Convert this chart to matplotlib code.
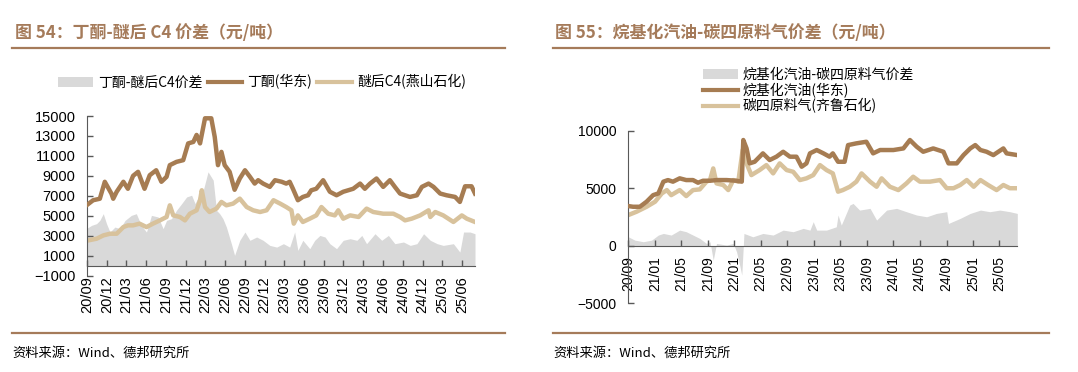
import matplotlib
matplotlib.use("Agg")
import matplotlib.pyplot as plt
import matplotlib.dates as mdates
from matplotlib.patches import Patch
from matplotlib.lines import Line2D
import pandas as pd

plt.rcParams['font.family'] = ['Noto Sans CJK SC', 'DejaVu Sans']

# ---------------- Left chart data: 丁酮-醚后C4 ----------------
mek_dates = ["2020-09-01","2020-09-28","2020-10-29","2020-11-21","2020-12-22","2020-12-30","2021-01-15",
             "2021-02-15","2021-03-08","2021-04-01","2021-04-24","2021-05-24","2021-06-17","2021-07-17",
             "2021-08-10","2021-09-03","2021-09-18","2021-10-19","2021-11-19","2021-12-12","2022-01-05",
             "2022-01-20","2022-02-05","2022-02-28","2022-03-29","2022-04-14","2022-04-29","2022-05-15",
             "2022-05-30","2022-06-22","2022-07-15","2022-08-08","2022-09-01","2022-09-24","2022-10-16",
             "2022-11-01","2022-11-24","2022-12-25","2023-01-18","2023-02-18","2023-03-11","2023-03-27",
             "2023-04-11","2023-05-04","2023-05-27","2023-06-20","2023-07-05","2023-07-28","2023-08-29",
             "2023-09-29","2023-10-30","2023-11-30","2024-01-15","2024-02-16","2024-03-09","2024-04-02",
             "2024-05-02","2024-06-02","2024-07-03","2024-07-26","2024-08-19","2024-09-11","2024-10-04",
             "2024-11-05","2024-11-28","2024-12-29","2025-01-21","2025-02-21","2025-03-22","2025-05-01",
             "2025-05-23","2025-06-16","2025-07-16","2025-08-01"]
mek_values = [6100,6550,6700,8400,7200,6700,7400,
              8400,7700,9000,9400,7700,9060,9560,
              8400,8900,10070,10400,10570,12250,12400,
              13100,12250,14770,14770,12900,10070,11400,
              10070,9400,7600,8730,9560,8900,8220,
              8560,8220,7890,8560,8400,8220,8400,
              7700,6550,6880,7050,7550,7700,8560,
              7400,7050,7400,7700,8220,7700,8220,
              8730,7890,8560,7890,7220,7050,6880,
              7050,7890,8220,7890,7220,7050,6880,
              6380,7950,7950,7220]

c4_dates = ["2020-09-01","2020-10-14","2020-11-14","2020-12-15","2021-01-15","2021-02-15","2021-03-08",
            "2021-04-01","2021-05-01","2021-06-02","2021-07-02","2021-08-03","2021-09-03","2021-09-18",
            "2021-10-04","2021-11-04","2021-11-27","2021-12-20","2022-01-20","2022-02-05","2022-02-13",
            "2022-02-28","2022-03-21","2022-04-22","2022-05-15","2022-06-07","2022-07-08","2022-08-08",
            "2022-09-09","2022-10-09","2022-11-10","2022-12-10","2023-01-11","2023-02-11","2023-03-11",
            "2023-04-04","2023-04-15","2023-05-04","2023-05-27","2023-06-28","2023-07-28","2023-08-21",
            "2023-09-21","2023-10-22","2023-11-07","2023-11-30","2024-01-01","2024-02-09","2024-03-17",
            "2024-04-17","2024-06-02","2024-07-19","2024-08-19","2024-09-11","2024-10-12","2024-11-20",
            "2024-12-29","2025-01-06","2025-01-29","2025-03-07","2025-04-23","2025-06-01","2025-06-24",
            "2025-08-01"]
c4_values = [2500,2690,3020,3190,3190,3860,4030,
             4030,4200,3860,4200,4530,4870,6040,
             5030,4870,4530,5200,5540,6550,7550,
             5870,5370,5710,6380,6040,6210,6710,
             5870,5540,5370,5540,6550,6210,5870,
             5540,4200,5030,4370,4700,5030,5870,
             5200,5030,5540,4700,5030,4870,5710,
             5370,5200,5200,4870,4530,4700,5030,
             5540,4870,5370,5030,4370,5030,4700,
             4370]

mek_spread_dates = ["2020-09-01","2020-09-21","2020-10-14","2020-10-29","2020-11-14","2020-11-29","2020-12-15",
                    "2021-01-07","2021-01-30","2021-02-23","2021-03-24","2021-04-16","2021-05-09","2021-06-02",
                    "2021-06-25","2021-07-26","2021-08-18","2021-09-03","2021-09-26","2021-10-19","2021-11-12",
                    "2021-12-05","2021-12-28","2022-01-13","2022-01-28","2022-02-20","2022-03-14","2022-04-07",
                    "2022-04-22","2022-05-07","2022-05-22","2022-06-07","2022-06-30","2022-07-15","2022-08-08",
                    "2022-09-01","2022-09-24","2022-10-25","2022-11-24","2022-12-25","2023-01-26","2023-02-26",
                    "2023-03-27","2023-04-19","2023-05-04","2023-05-27","2023-06-28","2023-07-21","2023-08-14",
                    "2023-09-07","2023-09-29","2023-10-30","2023-11-30","2024-01-01","2024-02-01","2024-02-24",
                    "2024-03-17","2024-04-25","2024-05-26","2024-06-26","2024-07-26","2024-09-04","2024-10-05",
                    "2024-11-05","2024-12-06","2025-01-06","2025-02-07","2025-03-07","2025-04-23","2025-05-23",
                    "2025-06-09","2025-07-09","2025-08-01"]
mek_spread_values = [3760,4030,4200,4530,5200,4200,3360,
                     3860,3700,4530,5030,5200,4030,3360,
                     5030,4870,3700,4530,4700,5540,6210,
                     6880,7050,6210,6880,7550,9400,8560,
                     5540,5200,4700,3860,2190,1020,2530,
                     3360,2530,2860,2530,2020,1850,2190,
                     1850,3360,1520,2530,1690,2530,3020,
                     2860,2190,1690,2530,2690,2530,3020,
                     2190,3190,2530,3020,2190,2360,2020,
                     2190,3190,2530,2190,2020,2190,1350,
                     3360,3360,3190]

left_yticks = [-1000, 1000, 3000, 5000, 7000, 9000, 11000, 13000, 15000]

# ---------------- Right chart data: 烷基化汽油-碳四原料气 ----------------
alky_dates = ["2020-09-01","2020-09-23","2020-10-24","2020-11-24","2020-12-24","2021-01-17","2021-02-09",
              "2021-03-02","2021-03-25","2021-04-25","2021-05-25","2021-06-25","2021-07-18","2021-08-10",
              "2021-09-11","2021-10-11","2021-11-26","2022-01-11","2022-02-04","2022-02-11","2022-02-26",
              "2022-03-12","2022-04-04","2022-04-27","2022-05-12","2022-06-12","2022-07-13","2022-08-13",
              "2022-09-13","2022-10-13","2022-11-06","2022-11-28","2022-12-14","2023-01-14","2023-02-14",
              "2023-03-14","2023-03-29","2023-04-22","2023-05-22","2023-06-07","2023-07-15","2023-08-30",
              "2023-09-30","2023-11-01","2024-01-01","2024-02-16","2024-03-17","2024-04-17","2024-05-17",
              "2024-07-02","2024-08-18","2024-09-10","2024-10-18","2024-11-18","2024-12-19","2025-01-11",
              "2025-02-04","2025-03-04","2025-04-04","2025-05-20","2025-06-04","2025-07-23"]
alky_values = [3450,3390,3390,3830,4400,4550,5570,
               5710,5570,5860,5710,5710,5480,5650,
               5650,5710,5710,5650,5570,9190,8460,
               7160,7300,7740,8030,7450,7740,8170,
               7740,7740,6870,7160,8030,8320,8030,
               7740,8030,7300,7300,8750,8900,9040,
               8030,8320,8320,8460,9190,8610,8170,
               8460,8170,7160,7160,7880,8460,8750,
               8320,8170,7880,8460,8030,7880]

feed_dates = ["2020-09-01","2020-10-09","2020-11-24","2021-01-02","2021-02-02","2021-02-25","2021-03-17",
              "2021-04-25","2021-05-25","2021-06-25","2021-07-26","2021-08-26","2021-09-11","2021-09-26",
              "2021-10-11","2021-11-11","2021-12-04","2021-12-27","2022-01-19","2022-02-08","2022-02-26",
              "2022-03-20","2022-04-27","2022-05-28","2022-06-28","2022-07-28","2022-08-29","2022-09-28",
              "2022-10-29","2022-11-28","2022-12-29","2023-01-29","2023-02-28","2023-03-29","2023-04-22",
              "2023-05-14","2023-06-15","2023-07-15","2023-08-08","2023-09-16","2023-10-16","2023-11-08",
              "2023-12-16","2024-01-24","2024-03-01","2024-04-01","2024-05-02","2024-06-17","2024-08-02",
              "2024-09-02","2024-10-03","2024-11-03","2024-12-03","2025-01-04","2025-02-04","2025-03-11",
              "2025-04-19","2025-05-20","2025-06-19","2025-07-23"]
feed_values = [2670,2960,3390,3830,4550,4840,4400,
               4840,4320,4840,4900,5570,5710,6720,
               5420,5280,4840,5710,5570,8320,7160,
               6140,6580,7010,6290,7160,6580,6430,
               5710,5860,6140,7010,6580,6290,4700,
               4840,5130,5570,6290,5570,5130,5860,
               5130,4840,5420,6000,5570,5570,5710,
               5000,5000,5280,5710,5130,5710,5280,
               4840,5280,5000,5000]

alky_spread_dates = ["2020-09-01","2020-10-01","2020-11-09","2020-12-17","2021-01-17","2021-02-09","2021-03-17",
                     "2021-04-25","2021-05-25","2021-06-25","2021-07-26","2021-08-26","2021-09-11","2021-09-26",
                     "2021-10-11","2021-11-26","2021-12-27","2022-01-11","2022-01-27","2022-02-04","2022-02-14",
                     "2022-03-27","2022-05-12","2022-06-28","2022-08-13","2022-09-28","2022-11-13","2022-12-14",
                     "2022-12-29","2023-01-14","2023-02-28","2023-04-14","2023-04-22","2023-05-07","2023-06-15",
                     "2023-06-30","2023-07-30","2023-09-16","2023-10-16","2023-12-01","2024-01-16","2024-03-01",
                     "2024-04-17","2024-06-02","2024-07-17","2024-09-02","2024-09-10","2024-11-03","2024-12-19",
                     "2025-02-04","2025-03-19","2025-05-04","2025-06-19","2025-07-23"]
alky_spread_values = [780,490,350,490,930,1070,930,
                      1360,1220,930,640,200,350,-1250,
                      200,60,200,-520,-1830,-2550,1070,
                      780,1070,930,1360,1220,1510,1360,
                      2090,1360,1360,1650,2670,1800,3540,
                      3680,3100,3250,2230,3100,3250,2960,
                      2670,2520,2810,2960,1940,2380,2810,
                      3100,2960,3100,2960,2810]

right_yticks = [-5000, 0, 5000, 10000]

# ---------------- Styles ----------------
BROWN = "#A67C52"
TAN = "#D8C29C"
GREY = "#D9D9D9"
TITLE_C = "#A57B5A"
AXC = "#595959"
TICKFONT = ['Liberation Sans', 'DejaVu Sans']

fig = plt.figure(figsize=(10.78, 3.72), dpi=100)

def to_dt(lst):
    return pd.to_datetime(lst)

def style_axes(ax, yticks, months, xlim, fs):
    for s in ['top', 'right']:
        ax.spines[s].set_visible(False)
    ax.spines['bottom'].set_position(('data', 0))
    ax.spines['bottom'].set_color(AXC)
    ax.spines['left'].set_color(AXC)
    ax.set_yticks(yticks)
    ax.set_ylim(yticks[0], yticks[-1])
    ax.set_xlim(pd.Timestamp(xlim[0]), pd.Timestamp(xlim[1]))
    ax.xaxis.set_major_locator(mdates.MonthLocator(bymonth=months))
    ax.xaxis.set_major_formatter(mdates.DateFormatter('%y/%m'))
    ax.tick_params(axis='x', direction='in', length=4, width=1, color=AXC, pad=7.5,
                   labelsize=fs, labelrotation=90)
    ax.tick_params(axis='y', direction='in', length=4, width=1, color=AXC, pad=8.5,
                   labelsize=fs)
    for lab in ax.get_xticklabels() + ax.get_yticklabels():
        lab.set_family(TICKFONT)

# Left axes
axL = fig.add_axes([87.3/1078, 1-275.5/372, (475-87.3)/1078, (275.5-116)/372])
axL.fill_between(to_dt(mek_spread_dates), mek_spread_values, 0, color=GREY, lw=0, zorder=1)
axL.plot(to_dt(mek_dates), mek_values, color=BROWN, lw=3.2, zorder=3, solid_joinstyle='round')
axL.plot(to_dt(c4_dates), c4_values, color=TAN, lw=3.2, zorder=2, solid_joinstyle='round')
style_axes(axL, left_yticks, [3, 6, 9, 12], ("2020-09-01", "2025-08-01"), 10.5)

# Right axes
axR = fig.add_axes([628.3/1078, 1-303.3/372, (1017.3-628.3)/1078, (303.3-130.7)/372])
axR.fill_between(to_dt(alky_spread_dates), alky_spread_values, 0, color=GREY, lw=0, zorder=1)
axR.plot(to_dt(alky_dates), alky_values, color=BROWN, lw=3.2, zorder=3, solid_joinstyle='round')
axR.plot(to_dt(feed_dates), feed_values, color=TAN, lw=3.2, zorder=2, solid_joinstyle='round')
style_axes(axR, right_yticks, [1, 5, 9], ("2020-09-01", "2025-07-23"), 10)

# Titles and rules
fig.text(15/1078, 1-33/372, "图 54：丁酮-醚后 C4 价差（元/吨）", color=TITLE_C, fontsize=12.2,
         fontweight='bold', ha='left', va='center')
fig.text(555/1078, 1-33/372, "图 55：烷基化汽油-碳四原料气价差（元/吨）", color=TITLE_C, fontsize=12.2,
         fontweight='bold', ha='left', va='center')
for x0, x1 in [(12, 505), (553, 1049)]:
    fig.add_artist(Line2D([x0/1078, x1/1078], [1-47.7/372]*2, color=TITLE_C, lw=1.6))
    fig.add_artist(Line2D([x0/1078, x1/1078], [1-333.3/372]*2, color=TITLE_C, lw=1.6))
fig.text(12/1078, 1-353/372, "资料来源：Wind、德邦研究所", fontsize=9.5, ha='left', va='center')
fig.text(553/1078, 1-353/372, "资料来源：Wind、德邦研究所", fontsize=9.5, ha='left', va='center')

# Legends
hL = [Patch(facecolor=GREY, edgecolor='none'),
      Line2D([], [], color=BROWN, lw=3),
      Line2D([], [], color=TAN, lw=3)]
fig.legend(hL, ["丁酮-醚后C4价差", "丁酮(华东)", "醚后C4(燕山石化)"], loc='center',
           bbox_to_anchor=(262/1078, 1-82/372), ncol=3, frameon=False, fontsize=10,
           handlelength=2.5, handletextpad=0.35, columnspacing=0.4, borderpad=0, borderaxespad=0)
fig.legend(hL, ["烷基化汽油-碳四原料气价差", "烷基化汽油(华东)", "碳四原料气(齐鲁石化)"], loc='upper left',
           bbox_to_anchor=(703/1078, 1-68/372), ncol=1, frameon=False, fontsize=10,
           handlelength=2.5, handletextpad=0.35, labelspacing=0.05, borderpad=0, borderaxespad=0)

fig.savefig("out.png", dpi=100)
